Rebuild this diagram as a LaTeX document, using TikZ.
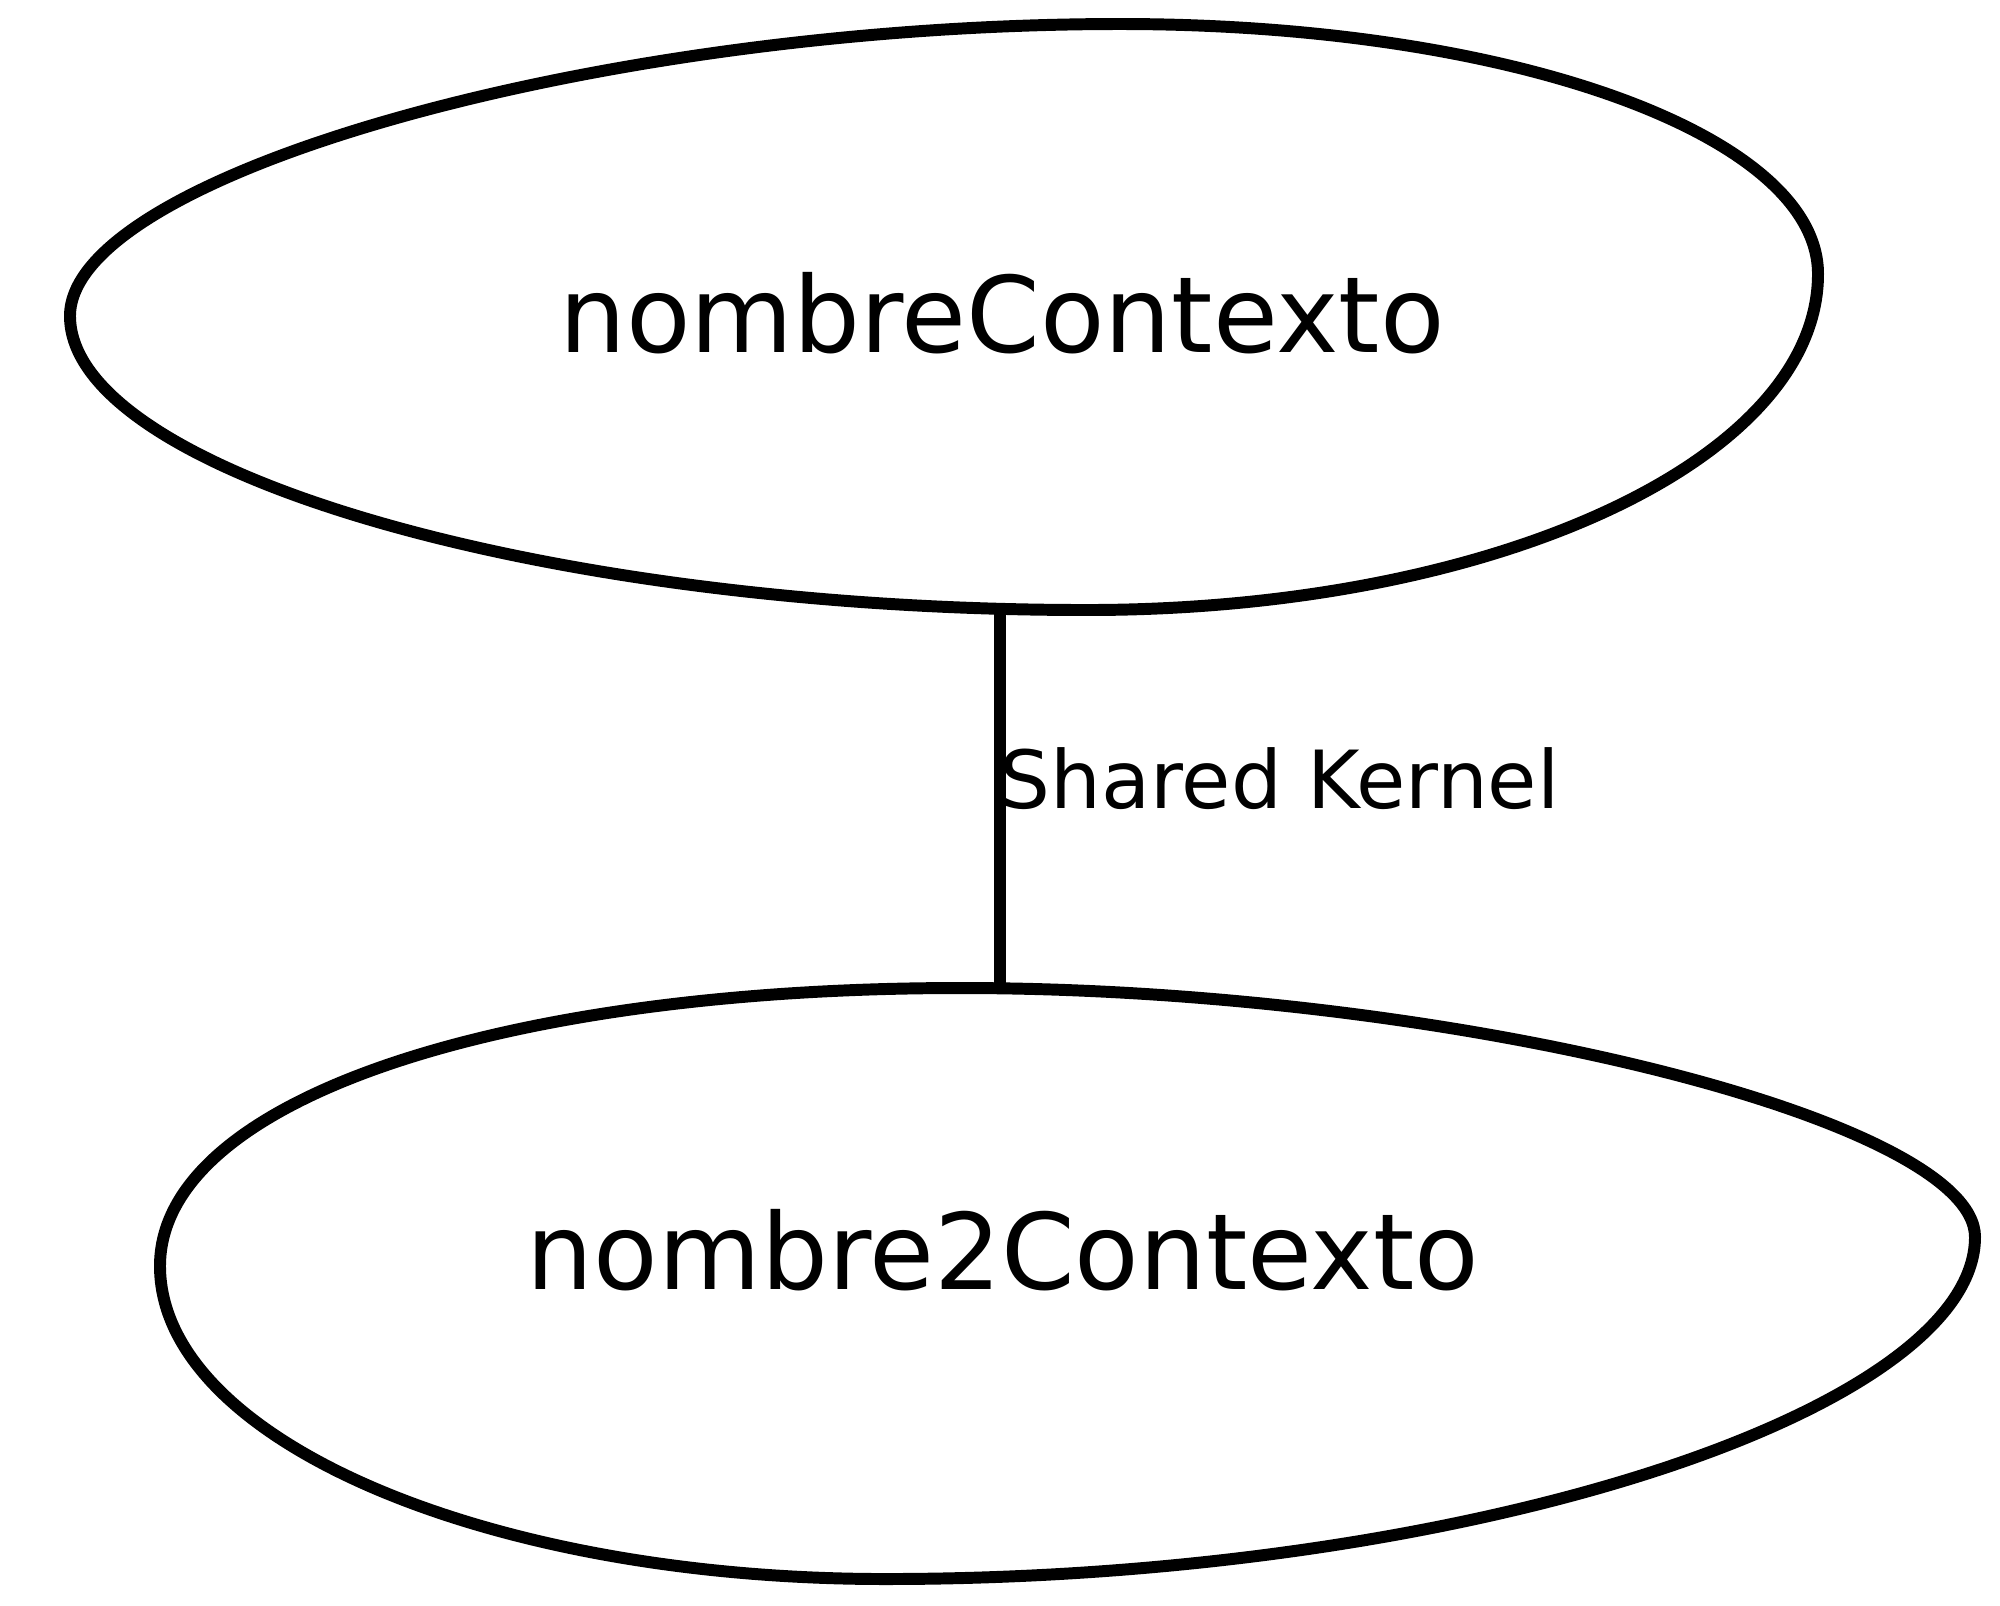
\documentclass[tikz,border=0pt]{standalone}
\usepackage{fontspec}
\setmainfont{DejaVu Sans}
\usetikzlibrary{positioning}

\begin{document}
\begin{tikzpicture}[x=0.01cm, y=-0.01cm,
    ctxline/.style={line width=3.4pt, draw=black},
    ctxlabel/.style={anchor=base, inner sep=0pt, font=\fontsize{30}{36}\selectfont},
    edgelabel/.style={anchor=base west, inner sep=0pt, font=\fontsize{22.8}{27}\selectfont}]
    \useasboundingbox (0,0) rectangle (2000,1605);

    % Upper context
    \draw[ctxline] (70,316) .. controls (70,175) and (600,24) .. (1120,24)
        .. controls (1514,24) and (1818,136) .. (1818,274)
        .. controls (1818,460) and (1494,610) .. (1087,610)
        .. controls (540,610) and (70,470) .. cycle;
    \node[ctxlabel] (ctxA) at (1002,352) {nombreContexto};
    \coordinate (ctxA-s) at (1000,607);

    % Lower context
    \draw[ctxline] (160,1266) .. controls (160,1100) and (500,988) .. (960,988)
        .. controls (1450,988) and (1975,1120) .. (1975,1237)
        .. controls (1975,1410) and (1470,1579) .. (885,1579)
        .. controls (485,1579) and (160,1439) .. cycle;
    \node[ctxlabel] (ctxB) at (1003,1289) {nombre2Contexto};
    \coordinate (ctxB-n) at (1000,990);

    % Relation
    \draw[ctxline] (ctxA-s) -- (ctxB-n);
    \node[edgelabel] (kernel) at (999,808) {Shared Kernel};
\end{tikzpicture}
\end{document}
